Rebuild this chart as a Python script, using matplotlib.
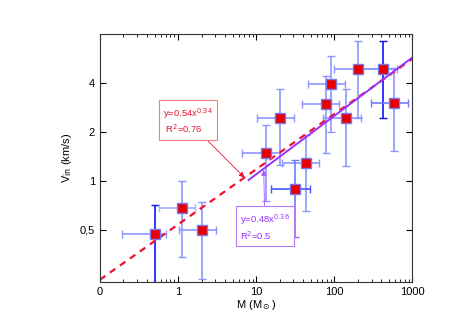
import numpy as np
import matplotlib.pyplot as plt
from matplotlib.ticker import FixedLocator, FixedFormatter, LogLocator, NullLocator

plt.rcParams['font.family'] = ['Liberation Sans', 'DejaVu Sans']
plt.rcParams['mathtext.fontset'] = 'dejavusans'

# data (mass in Msun, velocity in km/s)
mass = [0.5, 1.12, 2.05, 13.2, 20.5, 42.9, 31.9, 77.4, 89.7, 142.5, 203, 425, 581]
vin = [0.47, 0.68, 0.50, 1.49, 2.46, 1.29, 0.89, 2.97, 3.94, 2.46, 4.9, 4.9, 3.04]
m_lo = [0.19, 0.57, 1.02, 6.6, 10.3, 21.5, 15.6, 38.1, 45.9, 71.6, 99, 203, 293]
m_hi = [0.71, 1.67, 3.07, 20.5, 30.4, 63, 48.7, 114, 139, 217, 425, 643, 880]
v_lo = [0.2, 0.34, 0.25, 0.75, 1.25, 0.65, 0.45, 1.49, 2.0, 1.24, 2.46, 2.46, 1.54]
v_hi = [0.71, 1.0, 0.74, 2.22, 3.67, 1.93, 1.35, 4.44, 5.9, 3.67, 7.29, 7.29, 4.95]
vcol = ['#1010ff', '#8c96ff', '#8c96ff', '#8c96ff', '#8c96ff', '#8c96ff', '#6f7bff',
        '#8c96ff', '#8c96ff', '#8c96ff', '#8c96ff', '#1010ff', '#8c96ff']
hcol = ['#8c96ff', '#a8b0ff', '#8c96ff', '#8c96ff', '#8c96ff', '#8c96ff', '#4a55ff',
        '#8c96ff', '#8c96ff', '#8c96ff', '#8c96ff', '#8c96ff', '#6f7bff']

# power law fits
fit_all = (0.54, 0.34)
fit_hi = (0.48, 0.36)

fig = plt.figure(figsize=(4.67, 3.31), dpi=100)
ax = fig.add_axes([0.214, 0.149, 0.669, 0.747])
ax.set_xscale('log')
ax.set_yscale('log')

for i in range(len(mass)):
    ax.errorbar(mass[i], vin[i], yerr=[[vin[i] - v_lo[i]], [v_hi[i] - vin[i]]],
                fmt='none', ecolor=vcol[i], elinewidth=1.2, capsize=3, capthick=1)
    ax.errorbar(mass[i], vin[i], xerr=[[mass[i] - m_lo[i]], [m_hi[i] - mass[i]]],
                fmt='none', ecolor=hcol[i], elinewidth=1.2, capsize=3, capthick=1)
ax.plot(mass, vin, 's', ms=7, mfc='#e80000', mec='#7777ee', mew=1, zorder=5)

x1 = np.logspace(-1, 3, 100)
ax.plot(x1, fit_all[0] * x1 ** fit_all[1], '--', color='#ee1133', lw=1.6, dashes=(3, 2.5))
x2 = np.logspace(np.log10(8), 3, 100)
ax.plot(x2, fit_hi[0] * x2 ** fit_hi[1], '-', color='#9933ff', lw=1.4)

ax.annotate('y=0.54x$^{0.34}$\n R$^2$=0.76', xy=(7.1, 1.05), xytext=(0.64, 2.35),
            fontsize=6.8, color='#ee1133', va='center', ha='left',
            bbox=dict(boxstyle='square,pad=0.45', fc='white', ec='#f08080', lw=0.8),
            arrowprops=dict(arrowstyle='-|>', color='#ee1133', lw=0.6,
                            shrinkA=0, shrinkB=0, mutation_scale=8))
ax.annotate('y=0.48x$^{0.36}$\nR$^2$=0.5', xy=(12.5, 1.17), xytext=(6.2, 0.52),
            fontsize=6.8, color='#9933ff', va='center', ha='left',
            bbox=dict(boxstyle='square,pad=0.45', fc='white', ec='#bb77ee', lw=0.8),
            arrowprops=dict(arrowstyle='-|>', color='#aa55ff', lw=0.6,
                            shrinkA=0, shrinkB=0, mutation_scale=8))

ax.set_xlim(0.1, 1000)
ax.set_ylim(0.24, 8)
ax.xaxis.set_major_locator(FixedLocator([0.1, 1, 10, 100, 1000]))
ax.xaxis.set_major_formatter(FixedFormatter(['0', '1', '10', '100', '1000']))
ax.xaxis.set_minor_locator(LogLocator(base=10, subs=np.arange(2, 10)))
ax.yaxis.set_major_locator(FixedLocator([0.5, 1, 2, 4]))
ax.yaxis.set_major_formatter(FixedFormatter(['0,5', '1', '2', '4']))
ax.yaxis.set_minor_locator(NullLocator())
ax.tick_params(which='both', direction='in', top=True, right=True, labelsize=8)
ax.tick_params(which='major', length=4)
ax.tick_params(which='minor', length=2)
for s in ax.spines.values():
    s.set_linewidth(0.8)
    s.set_color('#333333')

ax.set_xlabel(r'M (M$_\odot$)', fontsize=8, labelpad=1)
ax.set_ylabel(r'V$_{\rm in}$ (km/s)', fontsize=8, labelpad=4)

fig.savefig('out.png', dpi=100)
